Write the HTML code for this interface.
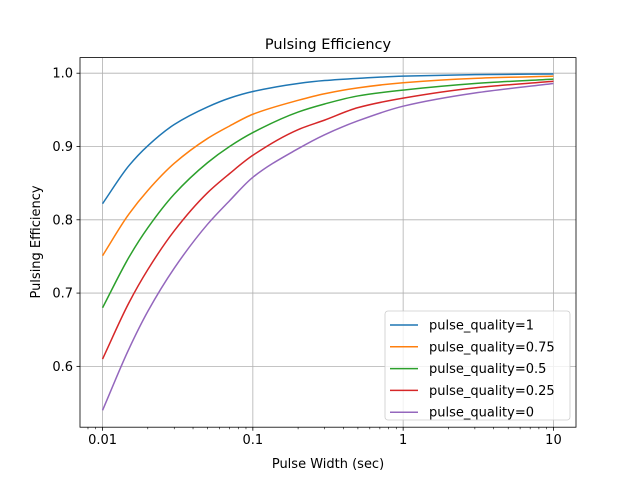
<!DOCTYPE html>
<html><head><meta charset="utf-8"><style>
body{margin:0;background:#fff}
svg text{font-family:"DejaVu Sans","Liberation Sans",sans-serif;fill:#000}
</style></head><body>
<svg id="chart" width="640" height="480" xmlns="http://www.w3.org/2000/svg">
<rect width="640" height="480" fill="#fff"/>
<g id="grid"></g>
<g id="series"></g>
<rect x="80" y="57.6" width="496" height="369.6" fill="none" stroke="#000" stroke-width="0.8"/>
<g id="ticks"></g>
<text x="328" y="49" font-size="14.5" text-anchor="middle">Pulsing Efficiency</text>
<text x="328" y="468" font-size="13" text-anchor="middle">Pulse Width (sec)</text>
<text transform="translate(40,242) rotate(-90)" font-size="13" text-anchor="middle">Pulsing Efficiency</text>
<g id="legend"></g>
</svg>
<script>
const xs=[0.01,0.015,0.02,0.03,0.05,0.07,0.1,0.2,0.3,0.5,1,3,10];
const labels=["pulse_quality=1","pulse_quality=0.75","pulse_quality=0.5","pulse_quality=0.25","pulse_quality=0"];
const q1=[0.822,0.874,0.901,0.930,0.954,0.966,0.975,0.986,0.990,0.993,0.996,0.998,0.999];
const q075=[0.751,0.808,0.840,0.877,0.911,0.928,0.944,0.963,0.972,0.980,0.987,0.993,0.996];
const q05=[0.680,0.749,0.789,0.835,0.878,0.900,0.919,0.947,0.958,0.969,0.977,0.986,0.992];
const q025=[0.610,0.687,0.732,0.785,0.837,0.863,0.888,0.923,0.936,0.953,0.966,0.980,0.989];
const q0=[0.540,0.624,0.675,0.734,0.794,0.826,0.858,0.897,0.916,0.935,0.955,0.973,0.986];
const xTicks=[0.01,0.1,1,10];
const xTickLabels=["0.01","0.1","1","10"];
const yTicks=[0.6,0.7,0.8,0.9,1.0];
const yTickLabels=["0.6","0.7","0.8","0.9","1.0"];
const colors=["#1f77b4","#ff7f0e","#2ca02c","#d62728","#9467bd"];
const seriesData=[q1,q075,q05,q025,q0];
const NS="http://www.w3.org/2000/svg";
const L=80,R=576,T=57.6,B=427.2;
const lx0=Math.log10(0.01)-0.15,lx1=Math.log10(10)+0.15;
const X=v=>L+(Math.log10(v)-lx0)/(lx1-lx0)*(R-L);
const y0=0.517,y1=1.0213;
const Y=v=>B-(v-y0)/(y1-y0)*(B-T);
function mk(tag,attrs,parent){const e=document.createElementNS(NS,tag);for(const k in attrs)e.setAttribute(k,attrs[k]);parent.appendChild(e);return e;}
const grid=document.getElementById('grid'),ticks=document.getElementById('ticks'),ser=document.getElementById('series'),leg=document.getElementById('legend');
xTicks.forEach((t,i)=>{const x=X(t);
 const g=mk('line',{x1:x,x2:x,y1:T,y2:B,stroke:'#b0b0b0','stroke-width':0.8},grid);
 
 
 const tk=mk('line',{x1:x,x2:x,y1:B,y2:B+3.5,stroke:'#000','stroke-width':0.8},ticks);
 
 
 const tx=mk('text',{x:x,y:B+17,'font-size':13,'text-anchor':'middle'},ticks);tx.textContent=xTickLabels[i];
 
 
});
for(let d=-3;d<=1;d++)for(let m=2;m<=9;m++){const v=m*Math.pow(10,d);const x=X(v);if(x<L||x>R)continue;
 const tk=mk('line',{x1:x,x2:x,y1:B,y2:B+2,stroke:'#000','stroke-width':0.6},ticks);
 
 }
yTicks.forEach((t,i)=>{const y=Y(t);
 const g=mk('line',{x1:L,x2:R,y1:y,y2:y,stroke:'#b0b0b0','stroke-width':0.8},grid);
 
 
 const tk=mk('line',{x1:L-3.5,x2:L,y1:y,y2:y,stroke:'#000','stroke-width':0.8},ticks);
 
 
 const tx=mk('text',{x:L-7,y:y+4.5,'font-size':13,'text-anchor':'end'},ticks);tx.textContent=yTickLabels[i];
 
 
});
function monoPath(pts){const n=pts.length,h=[],s=[],m=new Array(n);
 for(let i=0;i<n-1;i++){h[i]=pts[i+1][0]-pts[i][0];s[i]=(pts[i+1][1]-pts[i][1])/h[i];}
 m[0]=s[0];m[n-1]=s[n-2];
 for(let i=1;i<n-1;i++){if(s[i-1]*s[i]<=0)m[i]=0;else{const w1=2*h[i]+h[i-1],w2=h[i]+2*h[i-1];m[i]=(w1+w2)/(w1/s[i-1]+w2/s[i]);}}
 let d=`M${pts[0][0]},${pts[0][1]}`;
 for(let i=0;i<n-1;i++){const dx=h[i]/3;
  d+=`C${pts[i][0]+dx},${pts[i][1]+m[i]*dx} ${pts[i+1][0]-dx},${pts[i+1][1]-m[i+1]*dx} ${pts[i+1][0]},${pts[i+1][1]}`;}
 return d;}
seriesData.forEach((arr,si)=>{const pts=xs.map((x,i)=>[X(x),Y(arr[i])]);
 const p=mk('path',{d:monoPath(pts),fill:'none',stroke:colors[si],'stroke-width':1.5},ser);
 
 
});
const lb=mk('rect',{x:385,y:311,width:185,height:109,rx:3,fill:'#fff','fill-opacity':0.8,stroke:'#ccc','stroke-width':0.8},leg);


labels.forEach((lab,i)=>{const y=325+i*21.8;
 const ln=mk('line',{x1:390,x2:418,y1:y,y2:y,stroke:colors[i],'stroke-width':1.5},leg);
 
 
 const t=mk('text',{x:429,y:y+4.5,'font-size':13},leg);t.textContent=lab;
 
 
});
</script>
</body></html>
